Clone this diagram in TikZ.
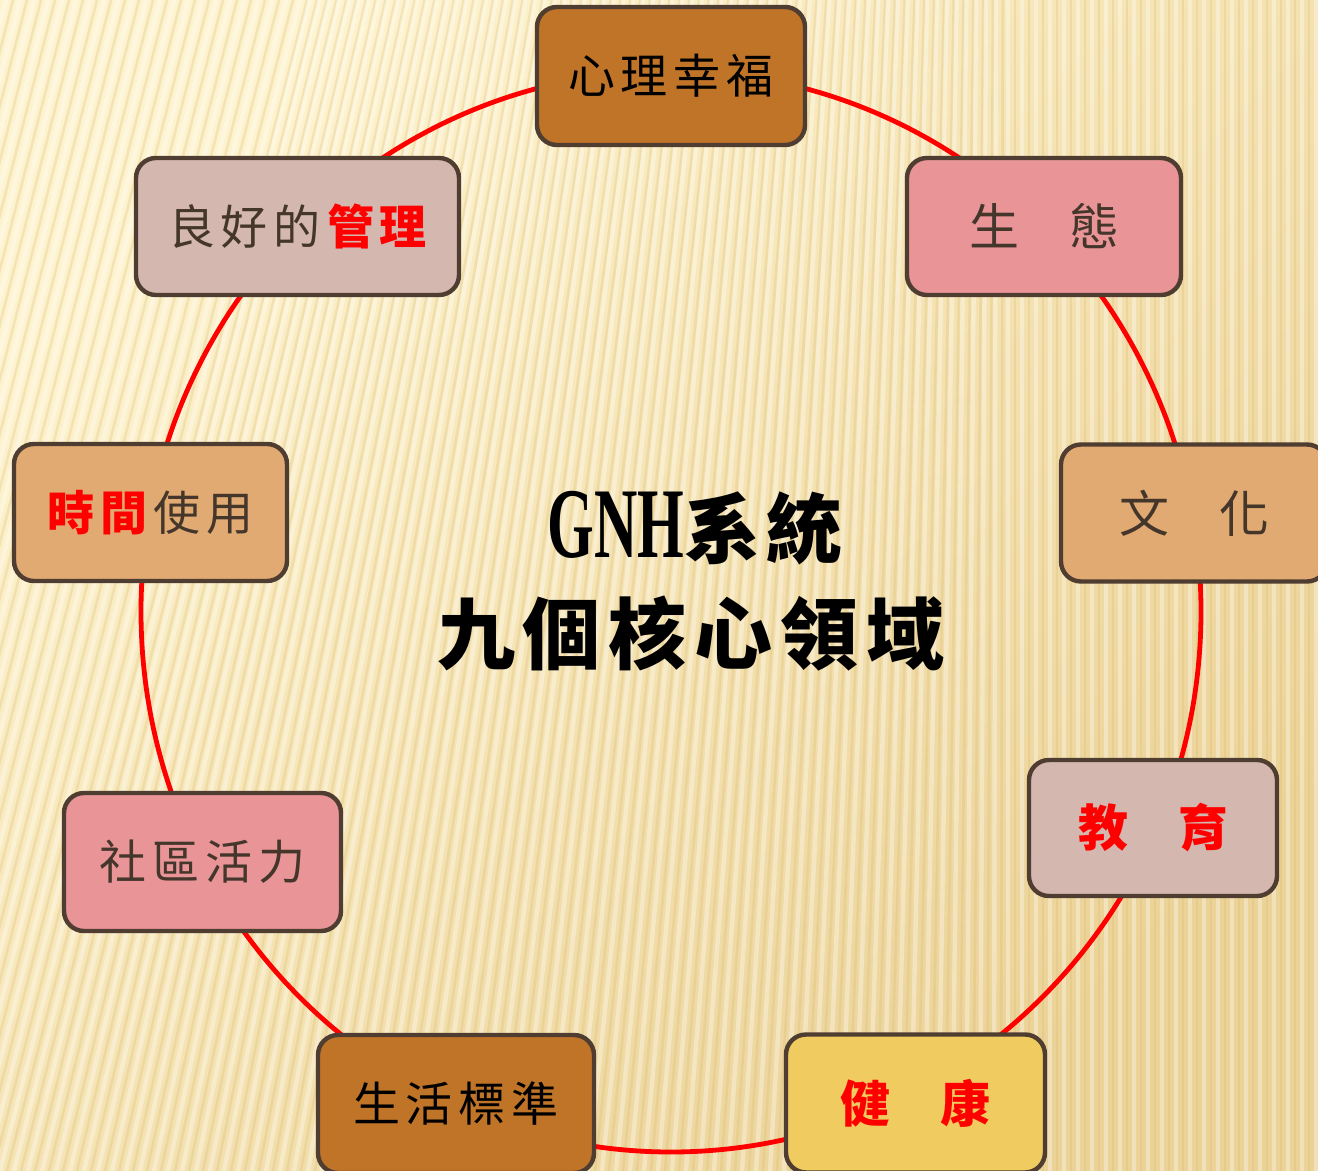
\documentclass[tikz,border=0pt]{standalone}
\usepackage{fontspec}
\usepackage{graphicx}
\newfontfamily\cjk{Noto Sans CJK TC}
\newfontfamily\gnhfont{Liberation Serif}
\definecolor{bgA}{HTML}{FEF3CE}
\definecolor{bgB}{HTML}{EBD296}
\definecolor{stripe}{HTML}{D6B870}
\definecolor{bord}{HTML}{4E3D30}
\definecolor{dark}{HTML}{45362B}
\definecolor{cbrown}{HTML}{C07428}
\definecolor{cpink}{HTML}{E99598}
\definecolor{ctan}{HTML}{E1AA72}
\definecolor{cgray}{HTML}{D4B8B0}
\definecolor{cyellow}{HTML}{F0CC60}
\definecolor{ring}{HTML}{FF0000}
\newcommand{\gap}{\hspace{3pt}}
\tikzset{
  dom/.style={draw=bord, line width=2.2pt, rounded corners=10pt, minimum height=69pt,
    inner sep=0pt, text=dark, font=\cjk\fontsize{23.5pt}{23.5pt}\selectfont}
}
\newcommand{\redb}[1]{{\bfseries\color{ring}#1}}
\begin{document}
\begin{tikzpicture}[x=0.5pt,y=-0.5pt]
\useasboundingbox (0,0) rectangle (1318,1171);
\begin{scope}
\clip (0,0) rectangle (1318,1171);
% background
\shade[top color=bgA, bottom color=bgB, shading angle=45] (0,0) rectangle (1318,1171);
\foreach \i in {0,...,125} {
  \pgfmathsetmacro{\xx}{\i*14-420}
  \pgfmathsetmacro{\slnt}{max(0,300*(1-max(0,\xx)/1000))}
  \draw[white, opacity=0.35, line width=2.2pt] (\xx,1171) -- (\xx+\slnt,0);
  \draw[stripe, opacity=0.25, line width=1.3pt] (\xx+7,1171) -- (\xx+7+\slnt,0);
}
% ring
\draw[ring, line width=2.4pt] (671,611.5) ellipse [x radius=265pt, y radius=270.25pt];
% domains
\node[dom, fill=cbrown, minimum width=134pt, text=black] (n1) at (671,76) {心\gap 理\gap 幸\gap 福};
\node[dom, fill=cpink, minimum width=137pt, minimum height=68.5pt, font=\cjk\fontsize{25pt}{25pt}\selectfont] (n2) at (1044,226.5) {生　態};
\node[dom, fill=ctan, minimum width=133pt, minimum height=68.5pt, font=\cjk\fontsize{25pt}{25pt}\selectfont] (n3) at (1194,513) {文　化};
\node[dom, fill=cgray, minimum width=124pt, minimum height=68pt, font=\cjk\fontsize{25pt}{25pt}\selectfont] (n4) at (1153,828) {\redb{教　育}};
\node[dom, fill=cyellow, minimum width=129.5pt, font=\cjk\fontsize{25pt}{25pt}\selectfont] (n5) at (915.5,1103.5) {\redb{健　康}};
\node[dom, fill=cbrown, minimum width=138pt, text=black] (n6) at (456,1104) {生\gap 活\gap 標\gap 準};
\node[dom, fill=cpink, minimum width=138.5pt] (n7) at (202.5,862) {社\gap 區\gap 活\gap 力};
\node[dom, fill=ctan, minimum width=136.5pt, minimum height=68.5pt] (n8) at (150.5,512.5) {\redb{時\gap 間}\gap 使\gap 用};
\node[dom, fill=cgray, minimum width=161.5pt, minimum height=68.5pt] (n9) at (297.5,226.5) {良\gap 好\gap 的\gap\redb{管\gap 理}};
% title
\node[inner sep=0pt, text=black] (t1) at (695,528)
  {\scalebox{0.6}[1]{\gnhfont\bfseries\fontsize{50pt}{50pt}\selectfont GNH}{\cjk\bfseries\fontsize{38pt}{38pt}\selectfont 系\hspace{3pt}統}};
\node[inner sep=0pt, text=black, font=\cjk\bfseries\fontsize{39pt}{39pt}\selectfont] (t2) at (691,634)
  {九\hspace{4pt}個\hspace{4pt}核\hspace{4pt}心\hspace{4pt}領\hspace{4pt}域};
\end{scope}
\end{tikzpicture}
\end{document}
